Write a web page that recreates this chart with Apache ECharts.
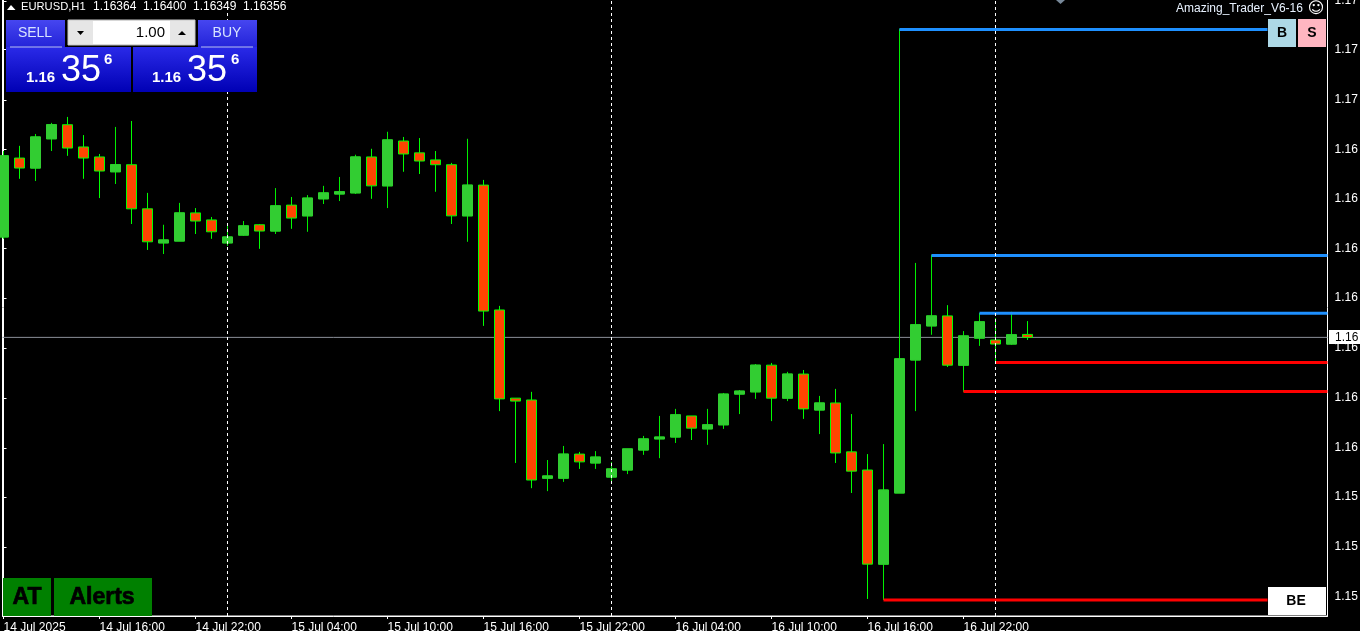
<!DOCTYPE html>
<html><head><meta charset="utf-8">
<style>html,body{margin:0;padding:0;background:#000;overflow:hidden}#c{width:1360px;height:631px}</style>
<script src="https://cdn.jsdelivr.net/npm/echarts@6/dist/echarts.min.js"></script>
</head><body><div id="c"></div>
<script>
const opens=[1.16627,1.16840,1.16813,1.16892,1.16930,1.16870,1.16843,1.16803,1.16822,1.16703,1.16611,1.16616,1.16692,1.16673,1.16611,1.16632,1.16660,1.16643,1.16713,1.16684,1.16730,1.16743,1.16746,1.16843,1.16765,1.16886,1.16854,1.16835,1.16822,1.16684,1.16767,1.16430,1.16192,1.16187,1.15976,1.15976,1.16041,1.16017,1.15979,1.15998,1.16052,1.16082,1.16087,1.16144,1.16109,1.16120,1.16203,1.16209,1.16281,1.16192,1.16257,1.16160,1.16179,1.16047,1.15998,1.15744,1.15936,1.16295,1.16387,1.16414,1.16281,1.16354,1.16349,1.16338,1.16364];
const closes=[1.16846,1.16813,1.16897,1.16930,1.16867,1.16840,1.16805,1.16822,1.16703,1.16614,1.16619,1.16692,1.16670,1.16641,1.16627,1.16657,1.16643,1.16711,1.16678,1.16732,1.16746,1.16749,1.16843,1.16765,1.16889,1.16851,1.16832,1.16822,1.16684,1.16767,1.16427,1.16190,1.16184,1.15971,1.15982,1.16041,1.16020,1.16033,1.16001,1.16055,1.16082,1.16087,1.16147,1.16111,1.16120,1.16203,1.16211,1.16281,1.16192,1.16257,1.16163,1.16179,1.16044,1.15995,1.15744,1.15944,1.16298,1.16390,1.16414,1.16281,1.16360,1.16398,1.16338,1.16363,1.16356];
const highs=[1.16859,1.16873,1.16905,1.16935,1.16951,1.16902,1.16851,1.16924,1.16940,1.16746,1.16660,1.16719,1.16705,1.16681,1.16660,1.16670,1.16662,1.16759,1.16735,1.16740,1.16765,1.16789,1.16849,1.16865,1.16911,1.16897,1.16894,1.16859,1.16827,1.16892,1.16781,1.16441,1.16192,1.16209,1.16025,1.16063,1.16047,1.16049,1.16020,1.16055,1.16090,1.16144,1.16163,1.16144,1.16163,1.16206,1.16214,1.16284,1.16287,1.16263,1.16268,1.16198,1.16217,1.16149,1.16041,1.16068,1.17189,1.16557,1.16579,1.16443,1.16373,1.16422,1.16408,1.16425,1.16400];
const lows=[1.16622,1.16784,1.16778,1.16859,1.16846,1.16784,1.16732,1.16770,1.16662,1.16592,1.16581,1.16616,1.16635,1.16622,1.16603,1.16630,1.16595,1.16635,1.16649,1.16641,1.16716,1.16724,1.16743,1.16730,1.16705,1.16803,1.16797,1.16749,1.16662,1.16614,1.16387,1.16157,1.16017,1.15949,1.15941,1.15966,1.16001,1.16001,1.15966,1.15987,1.16039,1.16030,1.16071,1.16079,1.16066,1.16109,1.16149,1.16190,1.16130,1.16184,1.16136,1.16095,1.16017,1.15936,1.15650,1.15647,1.15936,1.16157,1.16363,1.16276,1.16209,1.16333,1.16287,1.16336,1.16349];
const xTickBars=[0,6,12,18,24,30,36,42,48,54,60];
const xTickLabels=['14 Jul 2025','14 Jul 16:00','14 Jul 22:00','15 Jul 04:00','15 Jul 10:00','15 Jul 16:00','15 Jul 22:00','16 Jul 04:00','16 Jul 10:00','16 Jul 16:00','16 Jul 22:00'];
const yTicks=[1.17264,1.17133,1.16997,1.16863,1.16730,1.16596,1.16462,1.16327,1.16192,1.16057,1.15925,1.15790,1.15655];
const yTickLabels=['1.17','1.17','1.17','1.16','1.16','1.16','1.16','1.16','1.16','1.16','1.15','1.15','1.15'];
const sessionBars=[14,38,62];
const bidPrice=1.16356;
const blueLevels=[[56,79,1.17187],[58,82.75,1.16577],[61,82.75,1.16421]];
const redLevels=[[62,82.75,1.16288],[60,82.75,1.16210],[55,79,1.15647]];
const candles=opens.map((o,i)=>[i,o,closes[i],lows[i],highs[i]]);
const upBodies=opens.map((o,i)=>[i,o,closes[i],o,closes[i]]).filter(d=>d[2]>d[1]);
const levelSeries=(lv,color)=>lv.map(l=>({type:'line',silent:true,z:4,symbol:'none',
  data:[[l[0],l[2]],[l[1],l[2]]],lineStyle:{color,width:3}}));
const F='"Liberation Sans",Arial,sans-serif';
const T=(x,y,text,o={})=>({type:'text',x,y,z:20,silent:true,style:Object.assign({text,fill:'#fff',font:'12px '+F,textAlign:'left',textVerticalAlign:'middle'},o)});
const R=(x,y,w,h,fill,o={})=>({type:'rect',x,y,z:19,silent:true,shape:{x:0,y:0,width:w,height:h},style:Object.assign({fill},o)});
const G=(a,b)=>({type:'linear',x:0,y:0,x2:0,y2:1,colorStops:[{offset:0,color:a},{offset:1,color:b}]});
const P=(pts,fill)=>({type:'polygon',z:21,silent:true,shape:{points:pts},style:{fill}});
const graphics=[
 P([[7,10],[15.5,10],[11,5]],'#fff'),
 T(21,7,'EURUSD,H1',{font:'11.2px '+F}),T(93,7,'1.16364'),T(143,7,'1.16400'),T(193,7,'1.16349'),T(243,7,'1.16356'),
 R(6,20,59,28,G('#4646f0','#2222d8')),R(198,20,59,28,G('#4646f0','#2222d8')),
 R(6,47,125,45,G('#2a2ae8','#0000b4')),R(133,47,124,45,G('#2a2ae8','#0000b4')),
 R(10,46.5,52,1,'#b8c0f0'),R(201,46.5,52,1,'#b8c0f0'),
 T(35,33,'SELL',{fill:'#d8e4ff',font:'14px '+F,textAlign:'center'}),
 T(227,33,'BUY',{fill:'#d8e4ff',font:'14px '+F,textAlign:'center'}),
 R(68,20,127,25,'#e6e6e6',{stroke:'#c8c8c8',lineWidth:1}),R(93,21,77,23,'#fff'),
 P([[77,31],[84,31],[80.5,35]],'#000'),P([[178,35],[186,35],[182,31]],'#000'),
 T(165,33,'1.00',{fill:'#000',font:'15px '+F,textAlign:'right'}),
 T(26,78,'1.16',{font:'bold 15px '+F}),T(61,71,'35',{font:'36px '+F}),T(104,60,'6',{font:'bold 15px '+F}),
 T(152,78,'1.16',{font:'bold 15px '+F}),T(187,71,'35',{font:'36px '+F}),T(231,60,'6',{font:'bold 15px '+F}),
 T(1176,9,'Amazing_Trader_V6-16',{fill:'#e8f2ff'}),T(1316,9,'☺',{font:'16px "DejaVu Sans"',textAlign:'center'}),
 R(1268,19,28,28,'#add8e6'),R(1298,19,28,28,'#ffb6c1'),R(1268,587,58,28,'#fff'),
 T(1282,33,'B',{fill:'#000',font:'bold 14px '+F,textAlign:'center'}),
 T(1312,33,'S',{fill:'#000',font:'bold 14px '+F,textAlign:'center'}),
 T(1296,601,'BE',{fill:'#000',font:'bold 14px '+F,textAlign:'center'}),
 R(3,578,48,38,'#008000'),R(54,578,98,38,'#008000'),
 T(27,598,'AT',{fill:'#000',font:'bold 23px '+F,textAlign:'center',stroke:'#000',lineWidth:0.7}),
 T(102,598,'Alerts',{fill:'#000',font:'bold 23px '+F,textAlign:'center',stroke:'#000',lineWidth:0.7}),
 R(1329,330,31,14,'#fff'),T(1335,337.5,'1.16',{fill:'#000'}),
 P([[1056,0],[1065,0],[1060.5,4]],'#778899')
];
const chart=echarts.init(document.getElementById('c'),null,{renderer:'canvas'});
chart.setOption({
 animation:false,backgroundColor:'#000',
 grid:{left:2.5,top:-2,width:1325,height:618,outerBoundsMode:'none',show:true,borderColor:'#fff',borderWidth:1,backgroundColor:'transparent'},
 xAxis:{type:'value',min:-0.0625,max:82.75,splitLine:{show:false},
  axisLine:{show:true,lineStyle:{color:'#fff'}},
  axisTick:{show:true,length:3,lineStyle:{color:'#fff'},customValues:xTickBars},
  axisLabel:{customValues:xTickBars,color:'#fff',fontFamily:'Liberation Sans',fontSize:12,margin:6,align:'left',
   formatter:v=>xTickLabels[xTickBars.indexOf(v)]||''}},
 yAxis:{type:'value',position:'right',min:1.15604,max:1.17272,splitLine:{show:false},
  axisLine:{show:true,lineStyle:{color:'#fff'}},
  axisTick:{show:true,length:3,lineStyle:{color:'#fff'},customValues:yTicks},
  axisLabel:{customValues:yTicks,color:'#fff',fontFamily:'Liberation Sans',fontSize:12,margin:7,align:'left',hideOverlap:false,
   formatter:v=>yTickLabels[yTicks.indexOf(v)]||''}},
 graphic:graphics,
 series:[
  {type:'line',z:1,silent:true,symbol:'none',data:[[-0.0625,bidPrice],[82.75,bidPrice]],lineStyle:{color:'#8a8f98',width:1},
   markLine:{silent:true,symbol:'none',label:{show:false},lineStyle:{color:'#fff',type:[3,3],width:1},data:sessionBars.map(b=>({xAxis:b}))}},
  {type:'candlestick',z:3,barWidth:11,data:candles,encode:{x:0,y:[1,2,3,4]},
   itemStyle:{color:'#32cd32',color0:'#ff4500',borderColor:'#00ee00',borderColor0:'#00ff00',borderWidth:1}},
  {type:'candlestick',z:3,barWidth:11,data:upBodies,encode:{x:0,y:[1,2,3,4]},
   itemStyle:{color:'#32cd32',color0:'#32cd32',borderColor:'#32cd32',borderColor0:'#32cd32',borderWidth:1}},
  ...levelSeries(blueLevels,'#1e90ff'),
  ...levelSeries(redLevels,'#ff0000')
 ]
});
</script></body></html>
